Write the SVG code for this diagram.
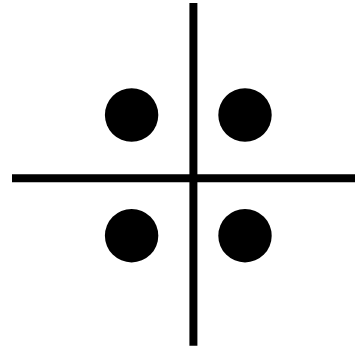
<svg xmlns="http://www.w3.org/2000/svg" width="362" height="351" viewBox="0 0 362 351">
<style>
.axis{stroke:#000;stroke-width:8;fill:none}
.dot{fill:#000}
</style>
<rect width="362" height="351" fill="#fff"/>
<g id="connectors">
<line class="axis" x1="193.4" y1="3" x2="193.4" y2="345.7"/>
<line class="axis" x1="12" y1="178.2" x2="355" y2="178.2"/>
</g>
<g id="dot-tl"><circle class="dot" cx="131.6" cy="115" r="26.7"/></g>
<g id="dot-tr"><circle class="dot" cx="245" cy="115" r="26.7"/></g>
<g id="dot-bl"><circle class="dot" cx="131.6" cy="235.7" r="26.7"/></g>
<g id="dot-br"><circle class="dot" cx="245" cy="235.7" r="26.7"/></g>
</svg>
